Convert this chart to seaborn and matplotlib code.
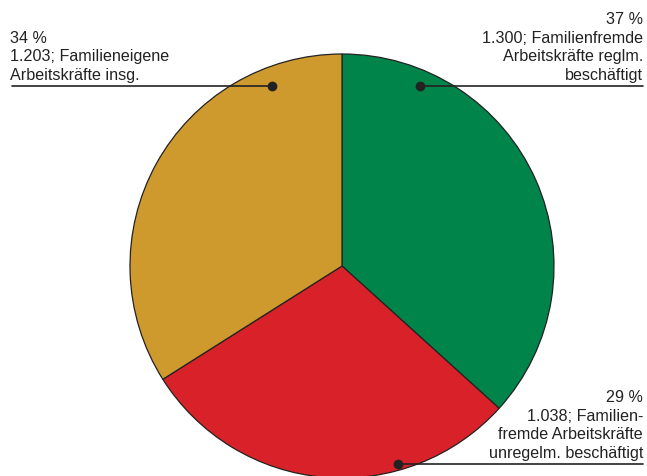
import matplotlib
matplotlib.use("Agg")
import matplotlib.pyplot as plt
import seaborn as sns

# Daten
kategorien = ["Familienfremde Arbeitskräfte reglm. beschäftigt",
              "Familienfremde Arbeitskräfte unregelm. beschäftigt",
              "Familieneigene Arbeitskräfte insg."]
werte = [1300, 1038, 1203]
prozent = [37, 29, 34]
beschriftungen = [
    "37 %\n1.300; Familienfremde\nArbeitskräfte reglm.\nbeschäftigt",
    "29 %\n1.038; Familien-\nfremde Arbeitskräfte\nunregelm. beschäftigt",
    "34 %\n1.203; Familieneigene\nArbeitskräfte insg.",
]
farben = ["#00844A", "#D92129", "#CE9A2E"]

sns.set_theme(style="white")
plt.rcParams['font.family'] = ['Liberation Sans', 'DejaVu Sans']

fig = plt.figure(figsize=(6.47, 4.76), dpi=100)
ax = fig.add_axes([0, 0, 1, 1])
H = 476

ax.pie(werte, colors=farben, startangle=90, counterclock=False,
       center=(342, H - 266), radius=212, frame=True,
       wedgeprops={'edgecolor': '#222222', 'linewidth': 0.9})

# Beschriftungen mit Führungslinien (Pixelkoordinaten)
# (Punkt x, Punkt y, Linienende x, Text x, Ausrichtung)
anker = [
    (420, 86, 643, 643, 'right'),
    (398, 464, 643, 643, 'right'),
    (272, 86, 12, 10, 'left'),
]
for text, (px, py, lx, tx, ha) in zip(beschriftungen, anker):
    ax.plot([px, lx], [H - py, H - py], color='#222222', lw=1.2, zorder=3)
    ax.plot(px, H - py, 'o', color='#222222', ms=6, zorder=4)
    ax.text(tx, H - py + 3, text, ha=ha, va='bottom', fontsize=11.6,
            color='#222222', linespacing=1.3, multialignment=ha)

ax.set_xlim(0, 647)
ax.set_ylim(0, H)
ax.set_aspect('equal')
ax.axis('off')

fig.savefig("out.png", dpi=100)
